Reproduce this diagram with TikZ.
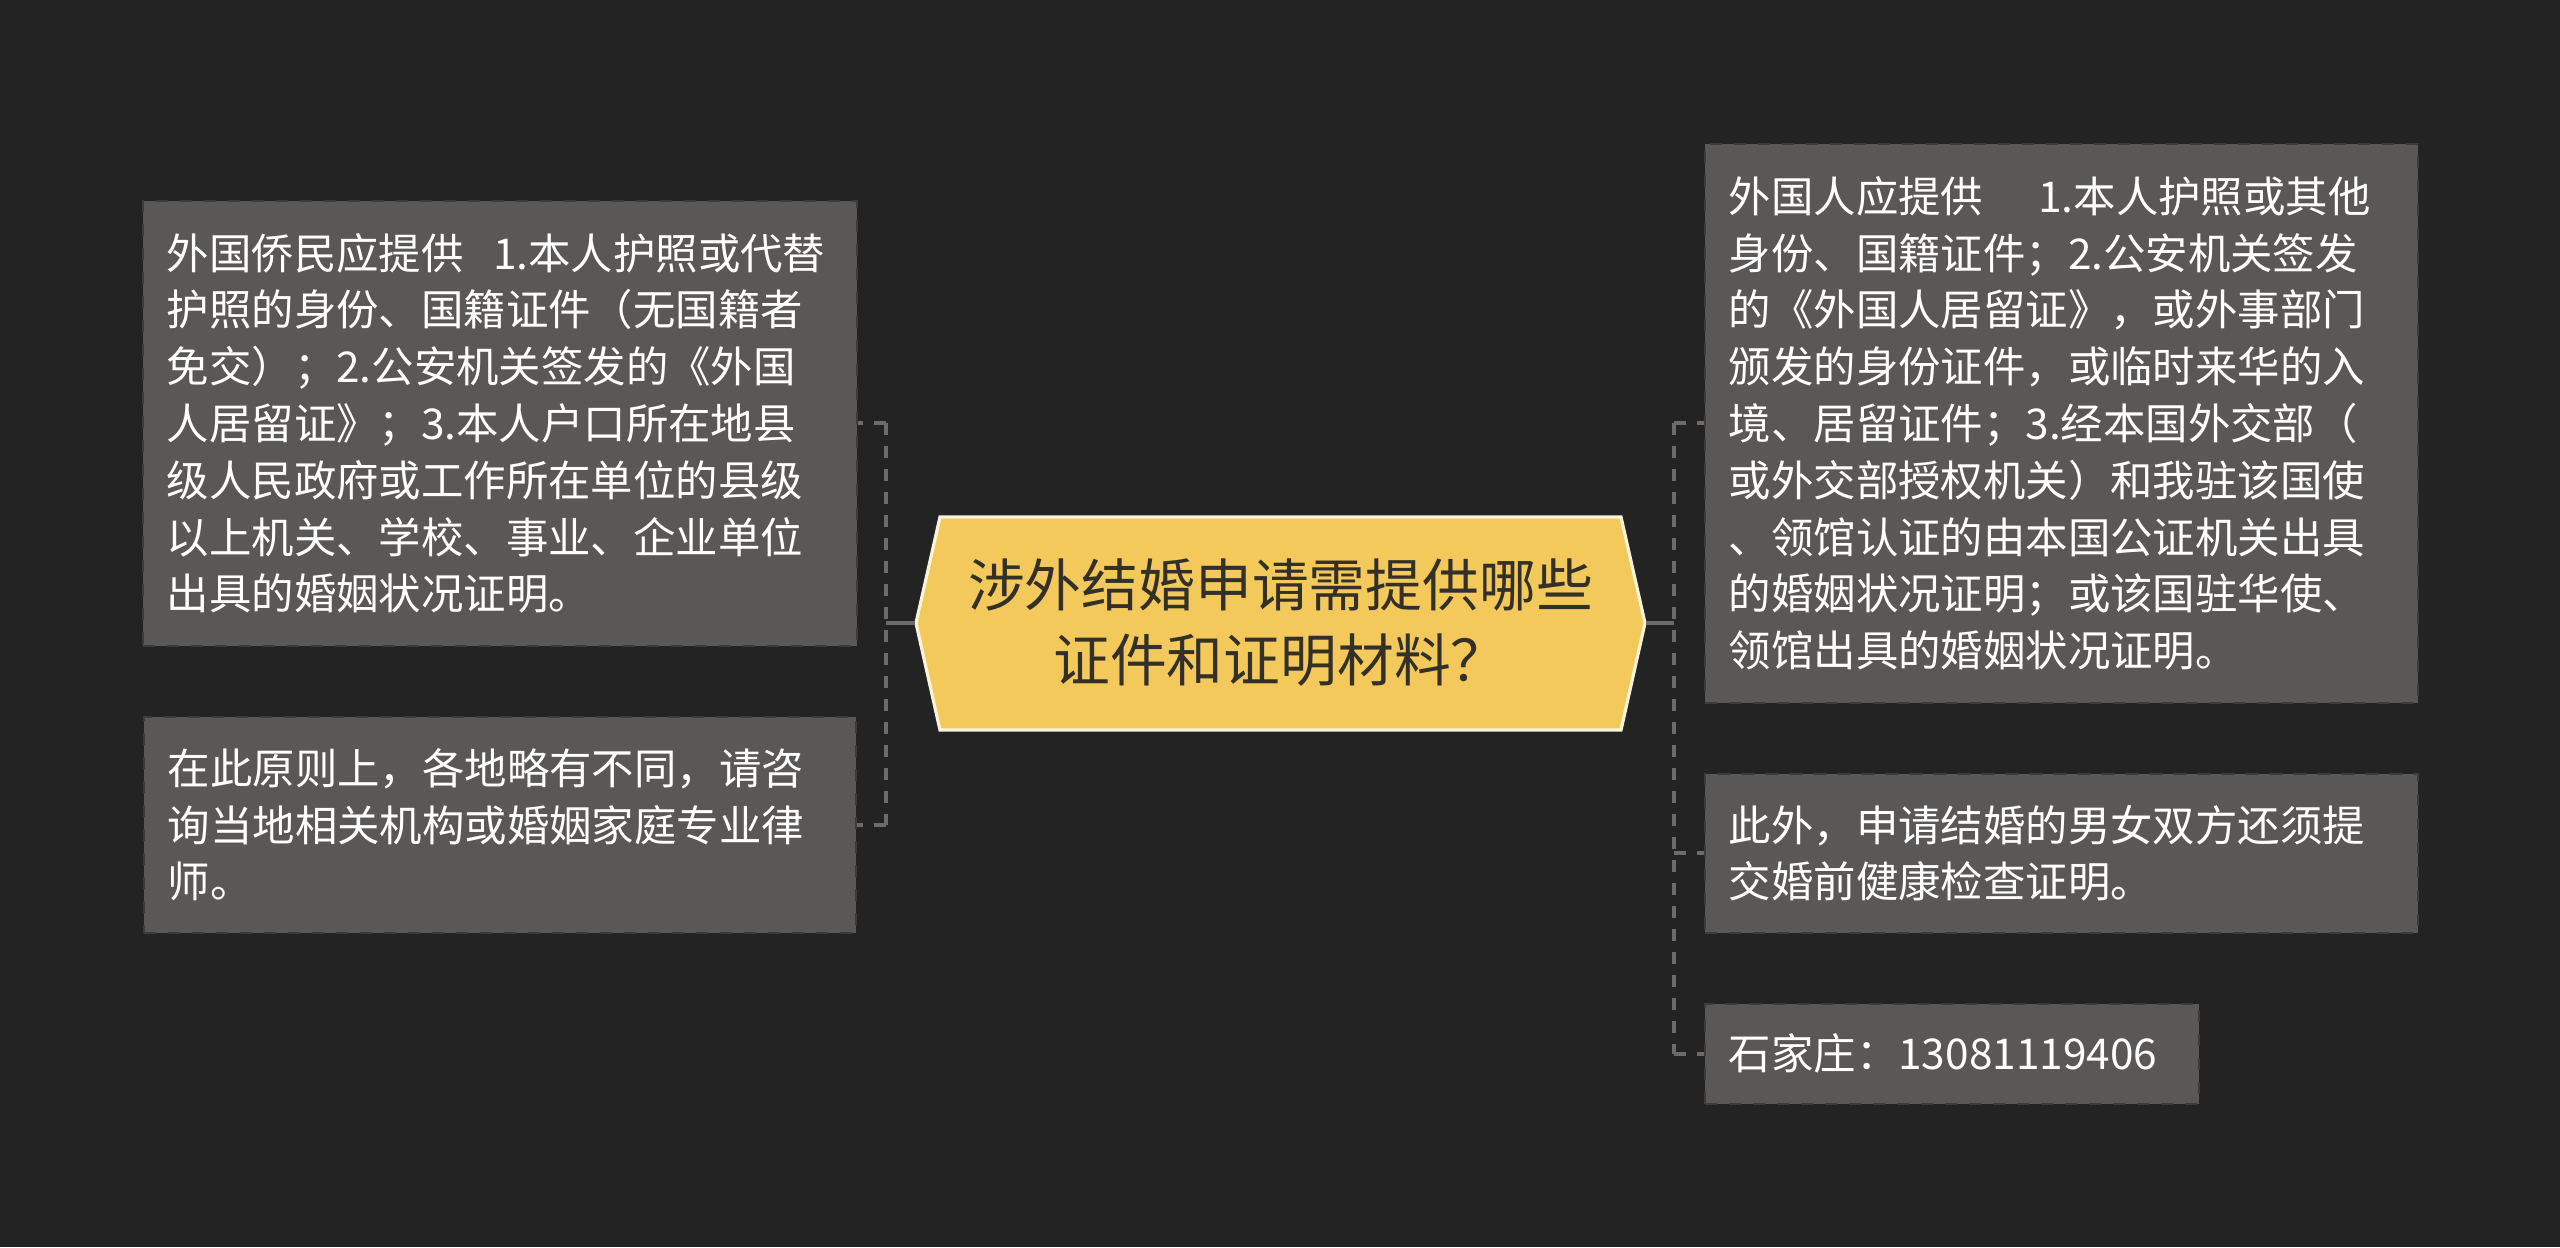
\documentclass[tikz,border=0pt]{standalone}
\usepackage{fontspec}
\setmainfont{Noto Sans CJK SC}
\usepackage{xcolor}
\usepackage{tikz}

\definecolor{bgdark}{HTML}{232323}
\definecolor{notefill}{HTML}{5A5856}
\definecolor{noteedge}{HTML}{3C3B3A}
\definecolor{linkgray}{HTML}{6E6C6A}
\definecolor{topicfill}{HTML}{F3C95C}
\definecolor{topicedge}{HTML}{F8F3DA}
\definecolor{topictext}{HTML}{333028}

\tikzset{
  note/.style={anchor=north west, fill=notefill, draw=noteedge, dashed, line width=0.4pt,
    text=white, align=left, inner xsep=6pt, inner ysep=0pt,
    font=\fontsize{10.6pt}{14.2pt}\selectfont},
  link/.style={draw=linkgray, line width=1pt},
}

\begin{document}
\begin{tikzpicture}[x=0.25pt, y=-0.25pt]
  \useasboundingbox (0,0) rectangle (2560,1247);
  \fill[bgdark] (0,0) rectangle (2560,1247);

  % central topic
  \draw[fill=topicfill, draw=topicedge, line width=0.8pt]
    (916,623) -- (940,517) -- (1621,517) -- (1645,623) -- (1621,730) -- (940,730) -- cycle;
  \node[minimum width=182.25pt, minimum height=53.25pt, inner sep=0pt, align=center,
    text=topictext, font=\fontsize{14.2pt}{18.75pt}\selectfont] (topic) at (1280.5,623)
    {涉外结婚申请需提供哪些\\证件和证明材料？};

  % left side
  \node[note, text width=166.5pt, minimum height=111.25pt] (lnote1) at (142,200)
    {外国侨民应提供\hspace{0.7em}1.本人护照或代替\\
     护照的身份、国籍证件（无国籍者\\
     免交）；2.公安机关签发的《外国\\
     人居留证》；3.本人户口所在地县\\
     级人民政府或工作所在单位的县级\\
     以上机关、学校、事业、企业单位\\
     出具的婚姻状况证明。};
  \node[note, text width=166pt, minimum height=54pt] (lnote2) at (143,716)
    {在此原则上，各地略有不同，请咨\\
     询当地相关机构或婚姻家庭专业律\\
     师。};

  % right side
  \node[note, text width=166.25pt, minimum height=139.75pt] (rnote1) at (1704,143)
    {外国人应提供\hspace{1.3em}1.本人护照或其他\\
     身份、国籍证件；2.公安机关签发\\
     的《外国人居留证》，或外事部门\\
     颁发的身份证件，或临时来华的入\\
     境、居留证件；3.经本国外交部（\\
     或外交部授权机关）和我驻该国使\\
     、领馆认证的由本国公证机关出具\\
     的婚姻状况证明；或该国驻华使、\\
     领馆出具的婚姻状况证明。};
  \node[note, text width=166.25pt, minimum height=39.75pt] (rnote2) at (1704,773)
    {此外，申请结婚的男女双方还须提\\
     交婚前健康检查证明。};
  \node[note, text width=111.5pt, minimum height=25pt] (rnote3) at (1704,1003)
    {石家庄：13081119406};

  % connectors
  \coordinate (ltrunk) at (886,623);
  \coordinate (rtrunk) at (1674,623);
  \draw[link] (topic.west) -- (ltrunk);
  \draw[link] (topic.east) -- (rtrunk);
  \draw[link, dash pattern=on 3pt off 2.75pt] (ltrunk |- lnote1.east) -- (ltrunk |- lnote2.east);
  \draw[link, dash pattern=on 3pt off 2.75pt] (rtrunk |- rnote1.east) -- (rtrunk |- rnote3.east);
  \draw[link, dash pattern=on 3pt off 2.75pt] (ltrunk |- lnote1.east) -- (lnote1.east);
  \draw[link, dash pattern=on 3pt off 2.75pt] (ltrunk |- lnote2.east) -- (lnote2.east);
  \draw[link, dash pattern=on 3pt off 2.75pt] (rtrunk |- rnote1.west) -- (rnote1.west);
  \draw[link, dash pattern=on 3pt off 2.75pt] (rtrunk |- rnote2.west) -- (rnote2.west);
  \draw[link, dash pattern=on 3pt off 2.75pt] (rtrunk |- rnote3.west) -- (rnote3.west);
\end{tikzpicture}
\end{document}
